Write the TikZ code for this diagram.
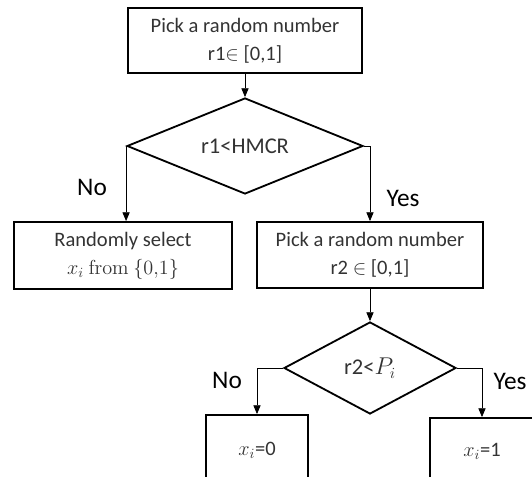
\documentclass[tikz,border=0pt]{standalone}
\usepackage[no-math]{fontspec}
\setmainfont{Carlito}
\usepackage{amsmath}
\usetikzlibrary{arrows.meta, shapes.geometric}
\definecolor{textgray}{rgb}{0.2, 0.2, 0.2}

\tikzset{
	stepbox/.style={draw, line width=1.3pt, text=textgray, align=center, inner sep=0pt,
		font=\fontsize{14.6}{20}\selectfont},
	decision/.style={diamond, draw, line width=1.3pt, text=textgray, aspect=2.4, inner sep=0pt,
		font=\fontsize{16}{20}\selectfont},
	flow/.style={line width=0.6pt, -{Triangle[length=2.2mm, width=1.8mm]}},
	answer/.style={font=\fontsize{18}{20}\selectfont}
}

\begin{document}
\begin{tikzpicture}
		\useasboundingbox (0,0) rectangle (13.3,11.925);
		\node [stepbox, minimum width=5.85cm, minimum height=1.625cm] (pick1) at (6.125,10.9125) {Pick a random number\\ r1$\in$ [0,1]};
		\node [decision, minimum width=5.9cm, minimum height=2.4cm] (hmcr) at (6.125,8.275) {r1<HMCR};
		\node [stepbox, minimum width=5.45cm, minimum height=1.675cm] (randsel) at (3.075,5.5375) {Randomly select\\ $x_i\ \mathrm{from}\ \{0{,}1\}$};
		\node [stepbox, minimum width=5.65cm, minimum height=1.65cm] (pick2) at (9.25,5.55) {Pick a random number\\ r2 $\in$ [0,1]};
		\node [decision, minimum width=4.3cm, minimum height=2.3cm] (par) at (9.25,2.725) {r2<$P_i$};
		\node [stepbox, minimum width=2.55cm, minimum height=1.75cm] (xzero) at (6.425,0.675) {$x_i$=0};
		\node [stepbox, minimum width=2.6cm, minimum height=1.65cm] (xone) at (12.05,0.65) {$x_i$=1};

		\node [answer] (no1) at (2.3,7.25) {No};
		\node [answer] (yes1) at (10.075,6.975) {Yes};
		\node [answer] (no2) at (5.675,2.425) {No};
		\node [answer] (yes2) at (12.75,2.4) {Yes};

		\draw [flow] (pick1.south) -- (hmcr.north);
		\draw [flow] (hmcr.west) -- (hmcr.west |- randsel.north);
		\draw [flow] (hmcr.east) -| (pick2.north);
		\draw [flow] (pick2.south) -- (par.north);
		\draw [flow] (par.west) -| (xzero.north);
		\draw [flow] (par.east) -| (xone.north);
	\end{tikzpicture}
\end{document}
